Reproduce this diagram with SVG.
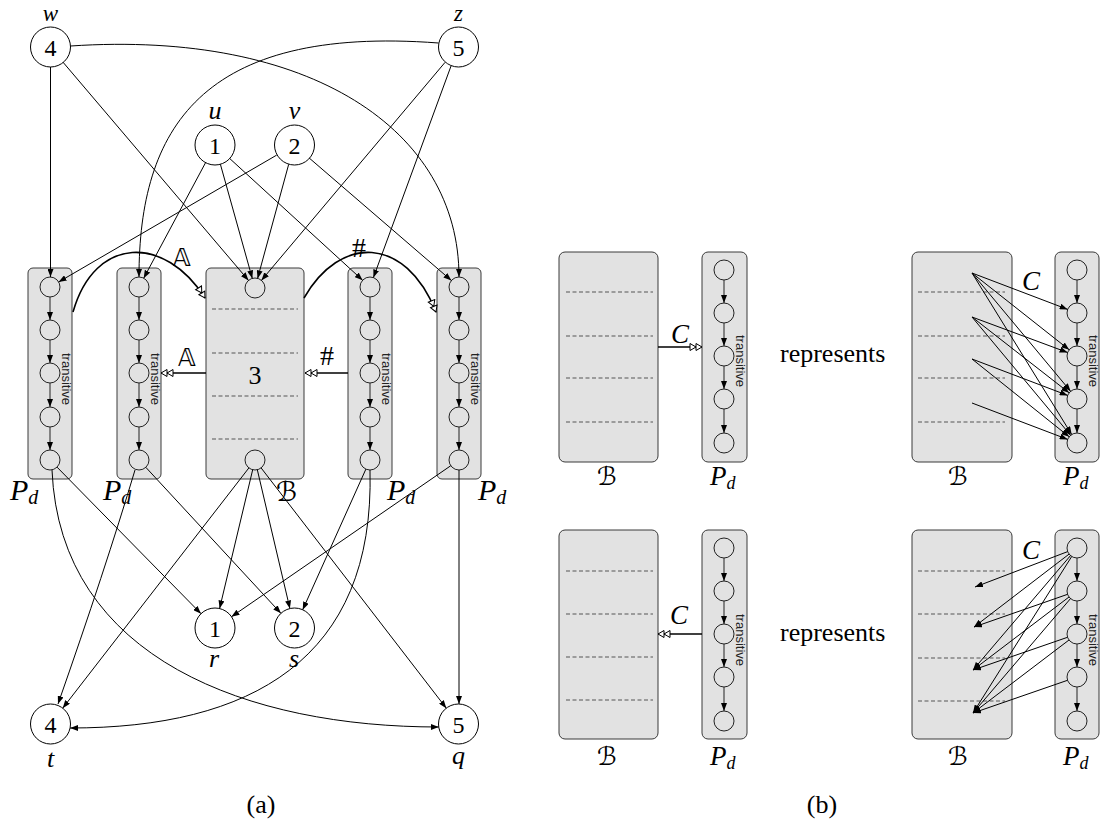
<svg xmlns="http://www.w3.org/2000/svg" width="1100" height="823" viewBox="0 0 1100 823">
<style>
.bg{fill:#fff}
.box{fill:#e2e2e2;stroke:#3a3a3a;stroke-width:1}
.ic{fill:none;stroke:#222;stroke-width:1}
.on{fill:#fff;stroke:#000;stroke-width:1}
.dash{stroke:#555;stroke-width:1;stroke-dasharray:4 2.5;fill:none}
.e{fill:none;stroke:#000;stroke-width:1;marker-end:url(#ah)}
.ch{fill:none;stroke:#222;stroke-width:1;marker-end:url(#ah)}
.th{fill:none;stroke:#000;stroke-width:1.6;marker-end:url(#dah)}
.num{font-family:"Liberation Serif",serif;font-size:24px;text-anchor:middle;fill:#000}
.mi{font-family:"Liberation Serif",serif;font-style:italic;font-size:26px;text-anchor:middle;fill:#000}
.pd{font-family:"Liberation Serif",serif;font-style:italic;font-size:30px;fill:#000}
.pdb{font-family:"Liberation Serif",serif;font-style:italic;font-size:27px;fill:#000}
.scr{font-family:"DejaVu Sans","Noto Sans",serif;font-size:27px;fill:#000}
.ds{font-family:"DejaVu Sans","Noto Sans",sans-serif;font-size:24px;text-anchor:middle;fill:#000}
.hash{font-family:"Liberation Serif",serif;font-size:28px;text-anchor:middle;fill:#000}
.tr{font-family:"Liberation Sans",sans-serif;font-size:13px;text-anchor:middle;fill:#222}
.rm{font-family:"Liberation Serif",serif;font-size:26px;fill:#000}
.cap{font-family:"Liberation Serif",serif;font-size:26px;text-anchor:middle;fill:#000}
</style>
<defs>
<marker id="ah" viewBox="0 0 8 6" refX="8" refY="3" markerWidth="8" markerHeight="6" markerUnits="userSpaceOnUse" orient="auto"><path d="M0,0 L8,3 L0,6 z" fill="#000"/></marker>
<marker id="dah" viewBox="-1 -1 14 9" refX="12" refY="3.5" markerWidth="14" markerHeight="9" markerUnits="userSpaceOnUse" orient="auto"><path d="M0,0 L6,3.5 L0,7 z M6,0 L12,3.5 L6,7 z" fill="#fff" stroke="#000" stroke-width="1"/></marker>
</defs>
<rect class="bg" x="0" y="0" width="1100" height="823"/>

<!-- ============ Panel (a) ============ -->
<g id="P1">
<rect class="box" x="28" y="268" width="44" height="211" rx="5"/>
<circle class="ic" cx="50" cy="287" r="10"/><circle class="ic" cx="50" cy="330" r="10"/><circle class="ic" cx="50" cy="373" r="10"/><circle class="ic" cx="50" cy="417" r="10"/><circle class="ic" cx="50" cy="460" r="10"/>
<path class="ch" d="M50,297 V320"/><path class="ch" d="M50,340 V363"/><path class="ch" d="M50,383 V407"/><path class="ch" d="M50,427 V450"/>
<text class="tr" transform="translate(61.5,379) rotate(90)">transitive</text>
<text class="pd" x="10" y="500">P<tspan font-size="20" dy="4">d</tspan></text>
</g>
<g id="P2">
<rect class="box" x="117" y="268" width="44" height="211" rx="5"/>
<circle class="ic" cx="139" cy="287" r="10"/><circle class="ic" cx="139" cy="330" r="10"/><circle class="ic" cx="139" cy="373" r="10"/><circle class="ic" cx="139" cy="417" r="10"/><circle class="ic" cx="139" cy="460" r="10"/>
<path class="ch" d="M139,297 V320"/><path class="ch" d="M139,340 V363"/><path class="ch" d="M139,383 V407"/><path class="ch" d="M139,427 V450"/>
<text class="tr" transform="translate(150.5,379) rotate(90)">transitive</text>
<text class="pd" x="103" y="500">P<tspan font-size="20" dy="4">d</tspan></text>
</g>
<g id="B">
<rect class="box" x="206" y="268" width="98" height="211" rx="5"/>
<circle class="ic" cx="255" cy="288" r="10"/>
<circle class="ic" cx="255" cy="460" r="10"/>
<path class="dash" d="M212,309 H298 M212,353 H298 M212,396 H298 M212,439 H298"/>
<text class="num" x="255" y="384" style="font-size:26px">3</text>
<text class="scr" x="276" y="501">ℬ</text>
</g>
<g id="P3">
<rect class="box" x="348" y="268" width="44" height="211" rx="5"/>
<circle class="ic" cx="370" cy="287" r="10"/><circle class="ic" cx="370" cy="330" r="10"/><circle class="ic" cx="370" cy="373" r="10"/><circle class="ic" cx="370" cy="417" r="10"/><circle class="ic" cx="370" cy="460" r="10"/>
<path class="ch" d="M370,297 V320"/><path class="ch" d="M370,340 V363"/><path class="ch" d="M370,383 V407"/><path class="ch" d="M370,427 V450"/>
<text class="tr" transform="translate(381.5,379) rotate(90)">transitive</text>
<text class="pd" x="387" y="500">P<tspan font-size="20" dy="4">d</tspan></text>
</g>
<g id="P4">
<rect class="box" x="437" y="268" width="44" height="211" rx="5"/>
<circle class="ic" cx="459" cy="287" r="10"/><circle class="ic" cx="459" cy="330" r="10"/><circle class="ic" cx="459" cy="373" r="10"/><circle class="ic" cx="459" cy="417" r="10"/><circle class="ic" cx="459" cy="460" r="10"/>
<path class="ch" d="M459,297 V320"/><path class="ch" d="M459,340 V363"/><path class="ch" d="M459,383 V407"/><path class="ch" d="M459,427 V450"/>
<text class="tr" transform="translate(470.5,379) rotate(90)">transitive</text>
<text class="pd" x="478" y="500">P<tspan font-size="20" dy="4">d</tspan></text>
</g>

<g id="w"><circle class="on" cx="50.5" cy="47" r="20"/><text class="num" x="50.5" y="55.5">4</text><text class="mi" x="50.5" y="21" style="font-size:23px">w</text></g>
<g id="z"><circle class="on" cx="458.5" cy="47" r="20"/><text class="num" x="458.5" y="55.5">5</text><text class="mi" x="458.5" y="21" style="font-size:23px">z</text></g>
<g id="u"><circle class="on" cx="215" cy="145" r="20"/><text class="num" x="215" y="153.5">1</text><text class="mi" x="215" y="119">u</text></g>
<g id="v"><circle class="on" cx="294.5" cy="145" r="20"/><text class="num" x="294.5" y="153.5">2</text><text class="mi" x="294.5" y="119">v</text></g>
<g id="r"><circle class="on" cx="215" cy="628" r="20"/><text class="num" x="215" y="636.5">1</text><text class="mi" x="214" y="667">r</text></g>
<g id="s"><circle class="on" cx="294.5" cy="628" r="20"/><text class="num" x="294.5" y="636.5">2</text><text class="mi" x="294" y="667">s</text></g>
<g id="t"><circle class="on" cx="50.5" cy="724" r="20"/><text class="num" x="50.5" y="732.5">4</text><text class="mi" x="50.5" y="767">t</text></g>
<g id="q"><circle class="on" cx="458.5" cy="724" r="20"/><text class="num" x="458.5" y="732.5">5</text><text class="mi" x="458.5" y="764">q</text></g>

<g id="connectors-a">
<path class="e" d="M50.5,67 V277"/>
<path class="e" d="M63,62.2 L248.5,280.4"/>
<path class="e" d="M70.5,46 C310,30 459,130 459,277"/>
<path class="e" d="M438.5,43 C200,25 139,130 139,277"/>
<path class="e" d="M445.1,62.3 L261.4,280.4"/>
<path class="e" d="M451.1,65.8 L373.4,277.6"/>
<path class="e" d="M205.6,162.6 L143.7,278.2"/>
<path class="e" d="M220.4,164.3 L252.3,278.4"/>
<path class="e" d="M229.7,158.5 L362.6,280.2"/>
<path class="e" d="M276.7,155.1 L58.6,282"/>
<path class="e" d="M288.7,164.3 L257.6,278.4"/>
<path class="e" d="M309.2,158 L451.4,280.5"/>

<path class="th" d="M73,312 C95,235 165,235 205,298"/>
<path class="th" d="M304,298 C340,235 405,235 436,312"/>
<path class="th" d="M206,373 H161"/>
<path class="th" d="M348,373 H305"/>

<path class="e" d="M57,467.1 L201,613.7"/>
<path class="e" d="M52,470 C60,660 250,727 438.7,727"/>
<path class="e" d="M135,470 Q105,570 58,704"/>
<path class="e" d="M145.8,467.3 L280.9,613.3"/>
<path class="e" d="M248.9,467.9 L62.7,708.2"/>
<path class="e" d="M252.7,469.7 L219.6,608.5"/>
<path class="e" d="M257.3,469.7 L289.9,608.5"/>
<path class="e" d="M261.1,467.9 L446.3,708.2"/>
<path class="e" d="M365.9,469.1 L302.7,609.8"/>
<path class="e" d="M370,470 C375,660 250,728 70.1,728"/>
<path class="e" d="M450.8,465.7 L231.5,616.7"/>
<path class="e" d="M459,470 V704"/>
</g>
<g id="labels-a">
<text class="ds" x="182" y="266">𝔸</text>
<text class="ds" x="187" y="366">𝔸</text>
<text class="hash" x="359" y="257">#</text>
<text class="hash" x="327" y="365">#</text>
</g>
<text class="cap" x="261" y="813">(a)</text>

<!-- ============ Panel (b) ============ -->
<g id="B-tl">
<rect class="box" x="559" y="252" width="99" height="210" rx="6"/>
<path class="dash" d="M566,292 H653 M566,336 H653 M566,378 H653 M566,422 H653"/>
<text class="scr" x="597" y="485" style="font-size:25px">ℬ</text>
</g>
<g id="Pd-tl">
<rect class="box" x="702" y="252" width="45" height="210" rx="6"/>
<circle class="ic" cx="724" cy="270" r="10"/><circle class="ic" cx="724" cy="313" r="10"/><circle class="ic" cx="724" cy="356" r="10"/><circle class="ic" cx="724" cy="399" r="10"/><circle class="ic" cx="724" cy="443" r="10"/>
<path class="ch" d="M724,280 V303"/><path class="ch" d="M724,323 V346"/><path class="ch" d="M724,366 V389"/><path class="ch" d="M724,409 V433"/>
<text class="tr" transform="translate(736,361) rotate(90)">transitive</text>
<text class="pdb" x="710" y="485">P<tspan font-size="18" dy="4">d</tspan></text>
</g>
<g id="conn-tl">
<path class="th" d="M658,347 H702"/>
<text class="pdb" x="680" y="343" text-anchor="middle">C</text>
</g>
<text class="rm" x="780" y="362">represents</text>

<g id="B-tr">
<rect class="box" x="912" y="252" width="100" height="210" rx="6"/>
<path class="dash" d="M918,292 H1005 M918,336 H1005 M918,378 H1005 M918,422 H1005"/>
<text class="scr" x="948" y="485" style="font-size:25px">ℬ</text>
</g>
<g id="Pd-tr">
<rect class="box" x="1055" y="252" width="44" height="210" rx="6"/>
<circle class="ic" cx="1077" cy="270" r="10"/><circle class="ic" cx="1077" cy="313" r="10"/><circle class="ic" cx="1077" cy="356" r="10"/><circle class="ic" cx="1077" cy="399" r="10"/><circle class="ic" cx="1077" cy="443" r="10"/>
<path class="ch" d="M1077,280 V303"/><path class="ch" d="M1077,323 V346"/><path class="ch" d="M1077,366 V389"/><path class="ch" d="M1077,409 V433"/>
<text class="tr" transform="translate(1089,361) rotate(90)">transitive</text>
<text class="pdb" x="1063" y="485">P<tspan font-size="18" dy="4">d</tspan></text>
</g>
<g id="conn-tr">
<path class="e" d="M972,273 L1067.7,309.4"/>
<path class="e" d="M972,273 L1069.2,349.8"/>
<path class="e" d="M972,273 L1070.6,391.3"/>
<path class="e" d="M972,273 L1071.7,434.5"/>
<path class="e" d="M972,317 L1067.6,352.5"/>
<path class="e" d="M972,317 L1069.1,392.8"/>
<path class="e" d="M972,317 L1070.6,435.3"/>
<path class="e" d="M972,359 L1067.7,395.4"/>
<path class="e" d="M972,359 L1069.2,436.8"/>
<path class="e" d="M972,403 L1067.7,439.4"/>
<text class="pdb" x="1031" y="290" text-anchor="middle">C</text>
</g>

<g id="B-bl">
<rect class="box" x="559" y="530" width="99" height="209" rx="6"/>
<path class="dash" d="M566,571 H653 M566,614 H653 M566,657 H653 M566,700 H653"/>
<text class="scr" x="597" y="765" style="font-size:25px">ℬ</text>
</g>
<g id="Pd-bl">
<rect class="box" x="702" y="530" width="45" height="209" rx="6"/>
<circle class="ic" cx="724" cy="548" r="10"/><circle class="ic" cx="724" cy="591" r="10"/><circle class="ic" cx="724" cy="634" r="10"/><circle class="ic" cx="724" cy="677" r="10"/><circle class="ic" cx="724" cy="721" r="10"/>
<path class="ch" d="M724,558 V581"/><path class="ch" d="M724,601 V624"/><path class="ch" d="M724,644 V667"/><path class="ch" d="M724,687 V711"/>
<text class="tr" transform="translate(736,640) rotate(90)">transitive</text>
<text class="pdb" x="710" y="765">P<tspan font-size="18" dy="4">d</tspan></text>
</g>
<g id="conn-bl">
<path class="th" d="M702,634 H658"/>
<text class="pdb" x="679" y="624" text-anchor="middle">C</text>
</g>
<text class="rm" x="780" y="641">represents</text>

<g id="B-br">
<rect class="box" x="912" y="530" width="100" height="209" rx="6"/>
<path class="dash" d="M918,571 H1005 M918,614 H1005 M918,658 H1005 M918,701 H1005"/>
<text class="scr" x="948" y="765" style="font-size:25px">ℬ</text>
</g>
<g id="Pd-br">
<rect class="box" x="1055" y="530" width="44" height="209" rx="6"/>
<circle class="ic" cx="1077" cy="548" r="10"/><circle class="ic" cx="1077" cy="591" r="10"/><circle class="ic" cx="1077" cy="634" r="10"/><circle class="ic" cx="1077" cy="677" r="10"/><circle class="ic" cx="1077" cy="721" r="10"/>
<path class="ch" d="M1077,558 V581"/><path class="ch" d="M1077,601 V624"/><path class="ch" d="M1077,644 V667"/><path class="ch" d="M1077,687 V711"/>
<text class="tr" transform="translate(1089,640) rotate(90)">transitive</text>
<text class="pdb" x="1063" y="765">P<tspan font-size="18" dy="4">d</tspan></text>
</g>
<g id="conn-br">
<path class="e" d="M1067.7,551.6 L975,587"/>
<path class="e" d="M1069.1,554.1 L974,627"/>
<path class="e" d="M1070.5,555.6 L973,670"/>
<path class="e" d="M1071.7,556.5 L973,713"/>
<path class="e" d="M1067.6,594.3 L974,627"/>
<path class="e" d="M1069,597 L973,670"/>
<path class="e" d="M1070.5,598.6 L973,713"/>
<path class="e" d="M1067.5,637.3 L973,670"/>
<path class="e" d="M1069,640 L973,713"/>
<path class="e" d="M1067.5,680.3 L973,713"/>
<text class="pdb" x="1031" y="559" text-anchor="middle">C</text>
</g>
<text class="cap" x="822" y="813">(b)</text>
</svg>
